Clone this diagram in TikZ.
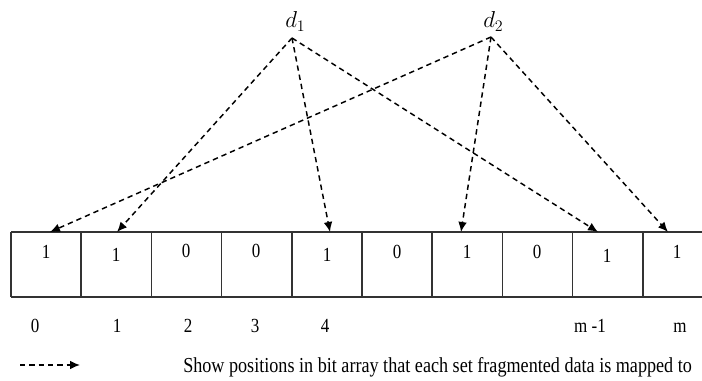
\documentclass[tikz,border=0pt]{standalone}
\usepackage{fontspec}
\setmainfont{Liberation Serif}
\newfontfamily\condfont[FakeStretch=0.85]{Liberation Serif}
\usetikzlibrary{arrows.meta}
\tikzset{
  cell/.style={minimum width=52.65pt, minimum height=48.75pt, inner sep=0pt, outer sep=0pt},
  grid/.style={draw=black!80, line width=1.1pt},
  val/.style={anchor=base, inner sep=0pt, font=\condfont\fontsize{15}{18}\selectfont},
  lab/.style={anchor=base, inner sep=0pt, font=\condfont\fontsize{15}{18}\selectfont},
  map/.style={dashed, dash pattern=on 4pt off 3pt, line width=1.1pt, -{Latex[length=7.5pt,width=6.5pt]}},
  dnode/.style={anchor=base west, inner sep=0pt, font=\fontsize{17}{20}\selectfont}
}
\begin{document}
\begin{tikzpicture}[x=0.75pt,y=-0.75pt]
\useasboundingbox (0,0) rectangle (702,381);
% cells
\foreach \i in {0,...,9} {
  \node[cell] (c\i) at ({46.1+70.2*\i},264.5) {};
}
\draw[grid] (c0.north west) -- (c9.north east);
\draw[grid] (c0.south west) -- (c9.south east);
\draw[grid] (c0.north west) -- (c0.south west);
\foreach \i in {0,...,9} {
  \draw[grid] (c\i.north east) -- (c\i.south east);
}
% values
\node[val] (v0) at (46,258) {1};
\node[val] (v1) at (116,261) {1};
\node[val] (v2) at (186,257) {0};
\node[val] (v3) at (256,257) {0};
\node[val] (v4) at (327,261) {1};
\node[val] (v5) at (397,258) {0};
\node[val] (v6) at (467,258) {1};
\node[val] (v7) at (537,258) {0};
\node[val] (v8) at (607,262) {1};
\node[val] (v9) at (677,258) {1};
% index labels
\node[lab] (l0) at (35,332) {0};
\node[lab] (l1) at (117,332) {1};
\node[lab] (l2) at (188,332) {2};
\node[lab] (l3) at (255,332) {3};
\node[lab] (l4) at (325,332) {4};
\node[lab] (lm1) at (590,332) {m -1};
\node[lab] (lm) at (680,332) {m};
% data items
\node[dnode] (d1) at (285,28) {$d_1$};
\node[dnode] (d2) at (483,28) {$d_2$};
\coordinate (a1) at (292,38);
\coordinate (a2) at (491,37);
% targets
\coordinate (t0) at (50,232);
\coordinate (t1) at (117,232);
\coordinate (t4) at (330,232);
\coordinate (t6) at (461,232);
\coordinate (t8) at (598,232);
\coordinate (t9) at (668,232);
\draw[map] (a1) -- (t1);
\draw[map] (a1) -- (t4);
\draw[map] (a1) -- (t8);
\draw[map] (a2) -- (t0);
\draw[map] (a2) -- (t6);
\draw[map] (a2) -- (t9);
% legend
\coordinate (g1) at (20,365);
\coordinate (g2) at (80,365);
\draw[map] (g1) -- (g2);
\node[anchor=base west, inner sep=0pt, font=\condfont\fontsize{16}{19}\selectfont] (legend) at (183,372) {Show positions in bit array that each set fragmented data is mapped to};
\end{tikzpicture}
\end{document}
